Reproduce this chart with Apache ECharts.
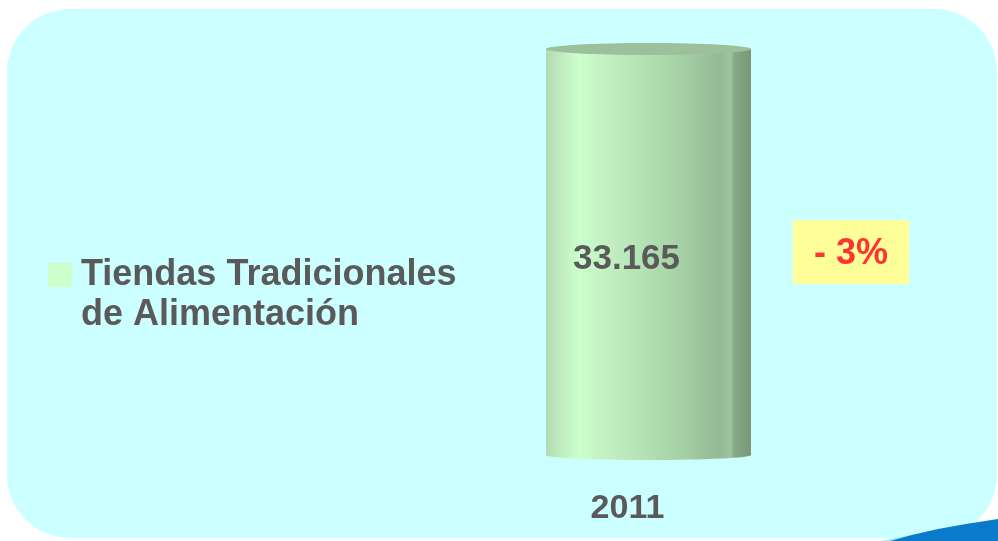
<!DOCTYPE html>
<html>
<head>
<meta charset="utf-8">
<script src="https://cdn.jsdelivr.net/npm/echarts@6/dist/echarts.min.js"></script>
<style>
html,body{margin:0;padding:0;background:#fff;}
#chart{width:998px;height:541px;}
</style>
</head>
<body>
<div id="chart"></div>
<script>
var categories = ['2011'];
var values = [33165];
var valueLabels = ['33.165'];
var legendLines = ['Tiendas Tradicionales', 'de Alimentación'];
var changeLabel = '- 3%';

var seriesName = legendLines.join(' ');
var FONT = "'Liberation Sans', Arial, sans-serif";
var GREY = '#5a5a5a';

function bodyGrad() {
  return new echarts.graphic.LinearGradient(0, 0, 1, 0, [
    {offset: 0, color: '#B2DAB2'},
    {offset: 0.06, color: '#BEE9BE'},
    {offset: 0.16, color: '#CCFFCC'},
    {offset: 0.3, color: '#C2F0C2'},
    {offset: 0.5, color: '#B2E0B2'},
    {offset: 0.7, color: '#A2CCA2'},
    {offset: 0.85, color: '#93B893'},
    {offset: 0.9, color: '#A0C4A0'},
    {offset: 0.92, color: '#86A886'},
    {offset: 1, color: '#789878'}
  ]);
}

var chart = echarts.init(document.getElementById('chart'));
chart.setOption({
  backgroundColor: '#ffffff',
  animation: false,
  graphic: [
    {type: 'rect', z: -10, shape: {x: 7, y: 9, width: 990, height: 529, r: 63},
     style: {fill: '#CCFFFF'}},
    {type: 'polygon', z: -9, shape: {points: [[880, 541], [905, 536], [935, 530], [960, 526], [940, 533], [915, 539], [905, 541]]},
     style: {fill: '#A8EEF4'}},
    {type: 'polygon', z: -8, shape: {points: [[890, 541], [912, 535], [938, 529], [966, 524], [998, 519], [998, 541]]},
     style: {fill: '#0A7BCB'}},
    {type: 'group', left: 793, top: 220, children: [
      {type: 'rect', shape: {x: 0, y: 0, width: 116, height: 64}, style: {fill: '#FFFF99'}},
      {type: 'text', x: 58, y: 34, style: {text: changeLabel, fill: '#FF3333',
        font: 'bold 36px ' + FONT, align: 'center', verticalAlign: 'middle'}}
    ]},
    {type: 'rect', shape: {x: 48, y: 263, width: 24, height: 24}, style: {fill: '#CCFFCC'}},
    {type: 'text', x: 81, y: 255, style: {text: legendLines.join('\n'), fill: GREY,
      font: 'bold 36px ' + FONT, lineHeight: 40, align: 'left', verticalAlign: 'top'}}
  ],
  grid: {left: 546, right: 247, top: 49, bottom: 86},
  xAxis: {
    type: 'category', data: categories,
    axisLine: {show: false}, axisTick: {show: false},
    axisLabel: {margin: 37, fontFamily: FONT, fontWeight: 'bold', fontSize: 34, color: GREY,
      padding: [0, 42, 0, 0]}
  },
  yAxis: {type: 'value', min: 0, max: values[0], show: false, splitLine: {show: false}},
  series: [
    {
      name: seriesName, type: 'bar', data: values, barWidth: '100%', z: 2,
      itemStyle: {color: bodyGrad()},
      label: {show: true, position: 'inside', offset: [-22, 7],
        formatter: function (p) { return valueLabels[p.dataIndex]; },
        fontFamily: FONT, fontWeight: 'bold', fontSize: 35, color: GREY}
    },
    {
      type: 'pictorialBar', data: values, symbol: 'circle', symbolSize: [205, 10],
      symbolPosition: 'start', symbolOffset: [0, '50%'], z: 1,
      itemStyle: {color: bodyGrad()}, silent: true
    },
    {
      type: 'pictorialBar', data: values, symbol: 'circle', symbolSize: [205, 12],
      symbolPosition: 'end', symbolOffset: [0, '-50%'], z: 3,
      itemStyle: {color: '#9CC09C'}, silent: true
    }
  ]
});
</script>
</body>
</html>
